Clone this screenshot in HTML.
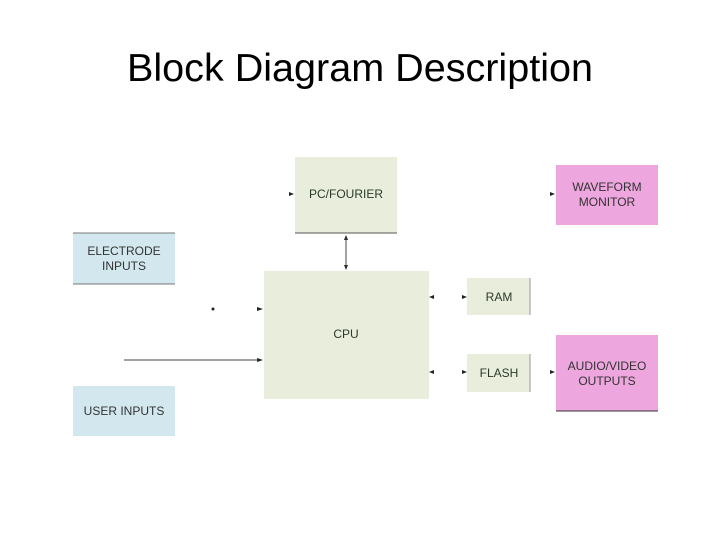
<!DOCTYPE html>
<html><head><meta charset="utf-8"><style>html,body{margin:0;padding:0;background:#fff}</style></head>
<body>
<svg width="720" height="540" xmlns="http://www.w3.org/2000/svg" font-family="Liberation Sans, sans-serif">
<rect width="720" height="540" fill="#fff"/>
<text x="127" y="81" font-size="39" textLength="466" lengthAdjust="spacingAndGlyphs" fill="#000">Block Diagram Description</text>
<g font-size="12" text-anchor="middle" fill="#333">
<!-- PC/FOURIER -->
<rect x="295" y="157" width="102" height="76" fill="#e9eddc"/>
<line x1="295" y1="233" x2="397" y2="233" stroke="#555" stroke-width="1"/>
<text x="346" y="198" fill="#2a3a2a">PC/FOURIER</text>
<!-- Electrode -->
<rect x="73" y="233" width="102" height="51" fill="#d3e8ee"/>
<line x1="73" y1="233" x2="175" y2="233" stroke="#777"/>
<line x1="73" y1="284" x2="175" y2="284" stroke="#777"/>
<text x="124" y="255">ELECTRODE</text>
<text x="124" y="270">INPUTS</text>
<!-- CPU -->
<rect x="264" y="271" width="165" height="128" fill="#e9eddc"/>
<text x="346" y="338" fill="#2a3a2a">CPU</text>
<!-- User inputs -->
<rect x="73" y="386" width="102" height="50" fill="#d3e8ee"/>
<text x="124" y="415">USER INPUTS</text>
<!-- RAM -->
<rect x="467" y="278" width="63" height="37" fill="#e9eddc"/>
<line x1="530" y1="278" x2="530" y2="315" stroke="#999"/>
<text x="499" y="301" fill="#2a3a2a">RAM</text>
<!-- FLASH -->
<rect x="467" y="354" width="63" height="38" fill="#e9eddc"/>
<line x1="530" y1="354" x2="530" y2="392" stroke="#999"/>
<text x="499" y="377" fill="#2a3a2a">FLASH</text>
<!-- Waveform -->
<rect x="556" y="165" width="102" height="60" fill="#eda6de"/>
<text x="607" y="191">WAVEFORM</text>
<text x="607" y="206">MONITOR</text>
<!-- Audio -->
<rect x="556" y="335" width="102" height="76" fill="#eda6de"/>
<line x1="556" y1="411" x2="658" y2="411" stroke="#333"/>
<text x="607" y="370">AUDIO/VIDEO</text>
<text x="607" y="385">OUTPUTS</text>
</g>
<g fill="#222">
<polygon points="289,192 294,194 289,196"/>
<polygon points="550,192 555,194 550,196"/>
<polygon points="550,370 555,372 550,374"/>
<polygon points="434,295 429,297 434,299"/>
<polygon points="462,295 467,297 462,299"/>
<polygon points="434,370 429,372 434,374"/>
<polygon points="462,370 467,372 462,374"/>
<polygon points="257,307 263,309 257,311"/>
<polygon points="257,358 263,360 257,362"/>
<circle cx="213" cy="309" r="1.5"/>
<polygon points="344,240 346,235 348,240"/>
<polygon points="344,265 346,270 348,265"/>
</g>
<line x1="124" y1="360" x2="258" y2="360" stroke="#444" stroke-width="1"/>
<line x1="346" y1="238" x2="346" y2="267" stroke="#444" stroke-width="1"/>
</svg>
</body></html>
